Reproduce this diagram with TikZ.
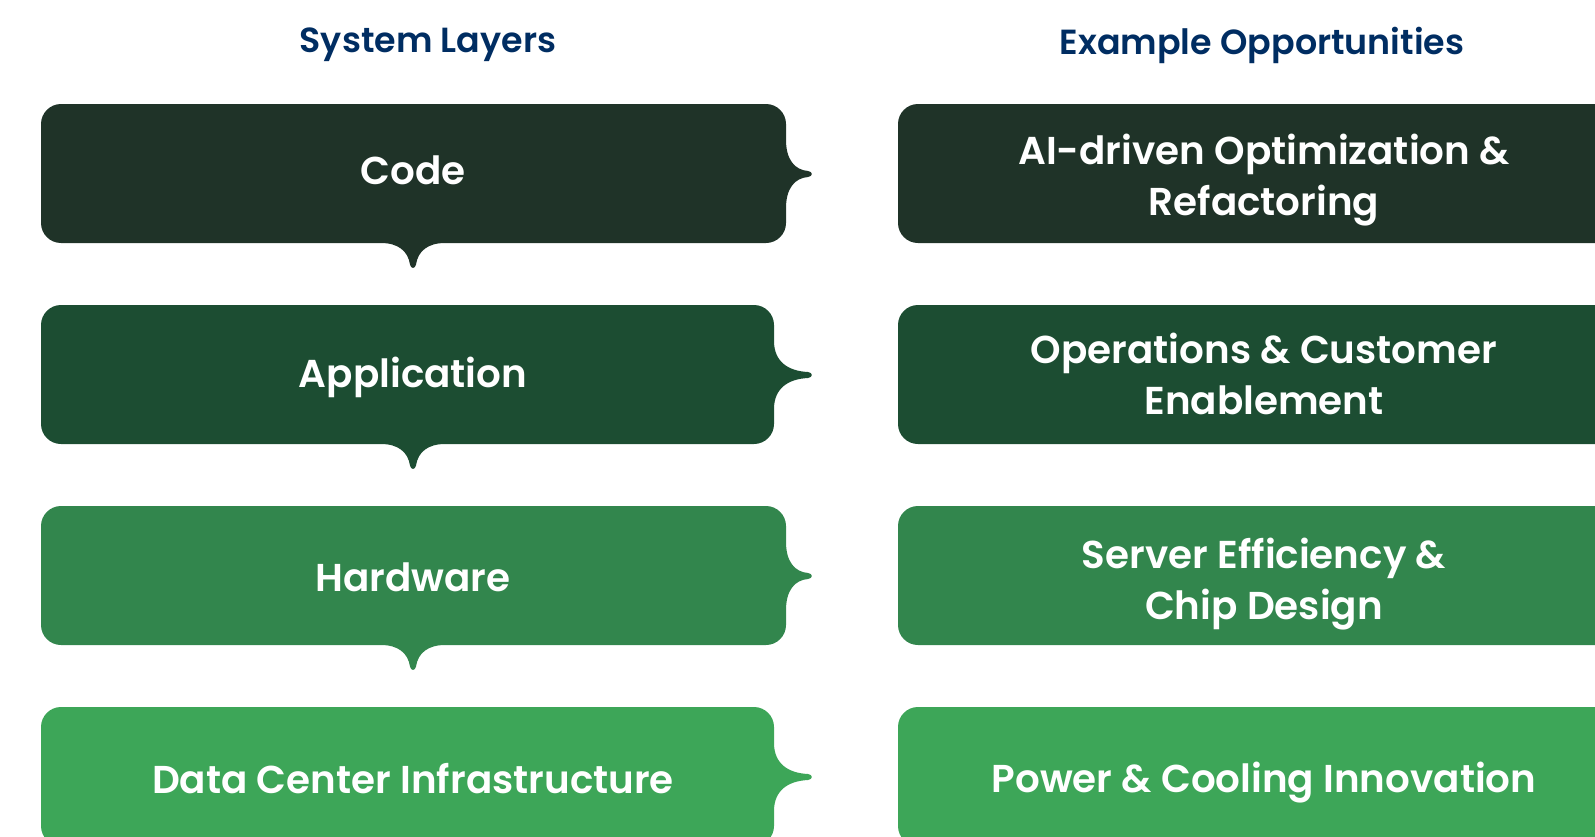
\documentclass[tikz,border=0pt]{standalone}
\usepackage{fontspec}
\setmainfont{Poppins}[BoldFont={Poppins SemiBold}]
\definecolor{navy}{RGB}{0,45,98}
\definecolor{layerA}{RGB}{31,51,40}
\definecolor{layerB}{RGB}{28,77,50}
\definecolor{layerC}{RGB}{50,134,77}
\definecolor{layerD}{RGB}{61,166,88}

% Left layer box with a brace-like tip on the right and an optional tip below.
% #1 colour, #2 top edge, #3 right edge, #4 x of right tip, #5 depth of bottom tip (0 = none)
\newcommand\layerbox[5]{%
  \fill[#1] (61,#2) -- ({#3-20},#2)
    .. controls ({#3-9},#2) and (#3,{#2+9}) .. (#3,{#2+20})
    -- (#3,{#2+36})
    .. controls (#3,{#2+56}) and ({#3+0.35*(#4-#3)},{#2+66}) .. ({#4-4},{#2+67})
    .. controls ({#4+1},{#2+67.5}) and ({#4+1},{#2+72.5}) .. ({#4-4},{#2+73})
    .. controls ({#3+0.35*(#4-#3)},{#2+74}) and (#3,{#2+84}) .. (#3,{#2+104})
    -- (#3,{#2+119})
    .. controls (#3,{#2+130}) and ({#3-9},{#2+139}) .. ({#3-20},{#2+139})
    -- (445,{#2+139})
    .. controls (428,{#2+139}) and (418,{#2+139+0.32*#5}) .. (416,{#2+139+0.86*#5})
    .. controls (415,{#2+140+#5}) and (411,{#2+140+#5}) .. (410,{#2+139+0.86*#5})
    .. controls (408,{#2+139+0.32*#5}) and (398,{#2+139}) .. (381,{#2+139})
    -- (61,{#2+139})
    .. controls (50,{#2+139}) and (41,{#2+130}) .. (41,{#2+119})
    -- (41,{#2+20})
    .. controls (41,{#2+9}) and (50,#2) .. (61,#2) -- cycle;}

\begin{document}
\begin{tikzpicture}[x=1bp,y=-1bp,
  header/.style={text=navy,font=\fontsize{35}{42}\selectfont\bfseries},
  layertext/.style={text=white,font=\fontsize{39}{46}\selectfont\bfseries},
  oppbox/.style={minimum width=732bp,minimum height=139bp,rounded corners=20bp,inner sep=0pt},
  opptext/.style={text=white,font=\fontsize{39}{51}\selectfont\bfseries,align=center}]
\useasboundingbox (0,0) rectangle (1595,836);
\clip (0,0) rectangle (1595,836);

% column headings
\node[header] (hleft) at (428,45) {System Layers};
\node[header] (hright) at (1262,45) {Example Opportunities};

% system layers
\layerbox{layerA}{104}{786}{812}{25}
\layerbox{layerB}{305}{774}{812}{25}
\layerbox{layerC}{506}{786}{812}{25}
\layerbox{layerD}{707}{774}{812}{0}
\node[layertext] (code) at (413,170) {Code};
\node[layertext] (app) at (413,377) {Application};
\node[layertext] (hw) at (413,577) {Hardware};
\node[layertext] (dc) at (413,779) {Data Center Infrastructure};

% opportunities
\node[oppbox,fill=layerA] (opp1) at (1264,173.5) {};
\node[oppbox,fill=layerB] (opp2) at (1264,374.5) {};
\node[oppbox,fill=layerC] (opp3) at (1264,575.5) {};
\node[oppbox,fill=layerD] (opp4) at (1264,776.5) {};
\node[opptext] (opp1t) at ([yshift=-6.5bp]opp1.center) {AI-driven Optimization \&\\Refactoring};
\node[opptext] (opp2t) at ([yshift=0.5bp]opp2.center) {Operations \& Customer\\Enablement};
\node[opptext] (opp3t) at ([yshift=-8.5bp]opp3.center) {Server Efficiency \&\\Chip Design};
\node[opptext] (opp4t) at ([yshift=-6.5bp]opp4.center) {Power \& Cooling Innovation};
\end{tikzpicture}
\end{document}
